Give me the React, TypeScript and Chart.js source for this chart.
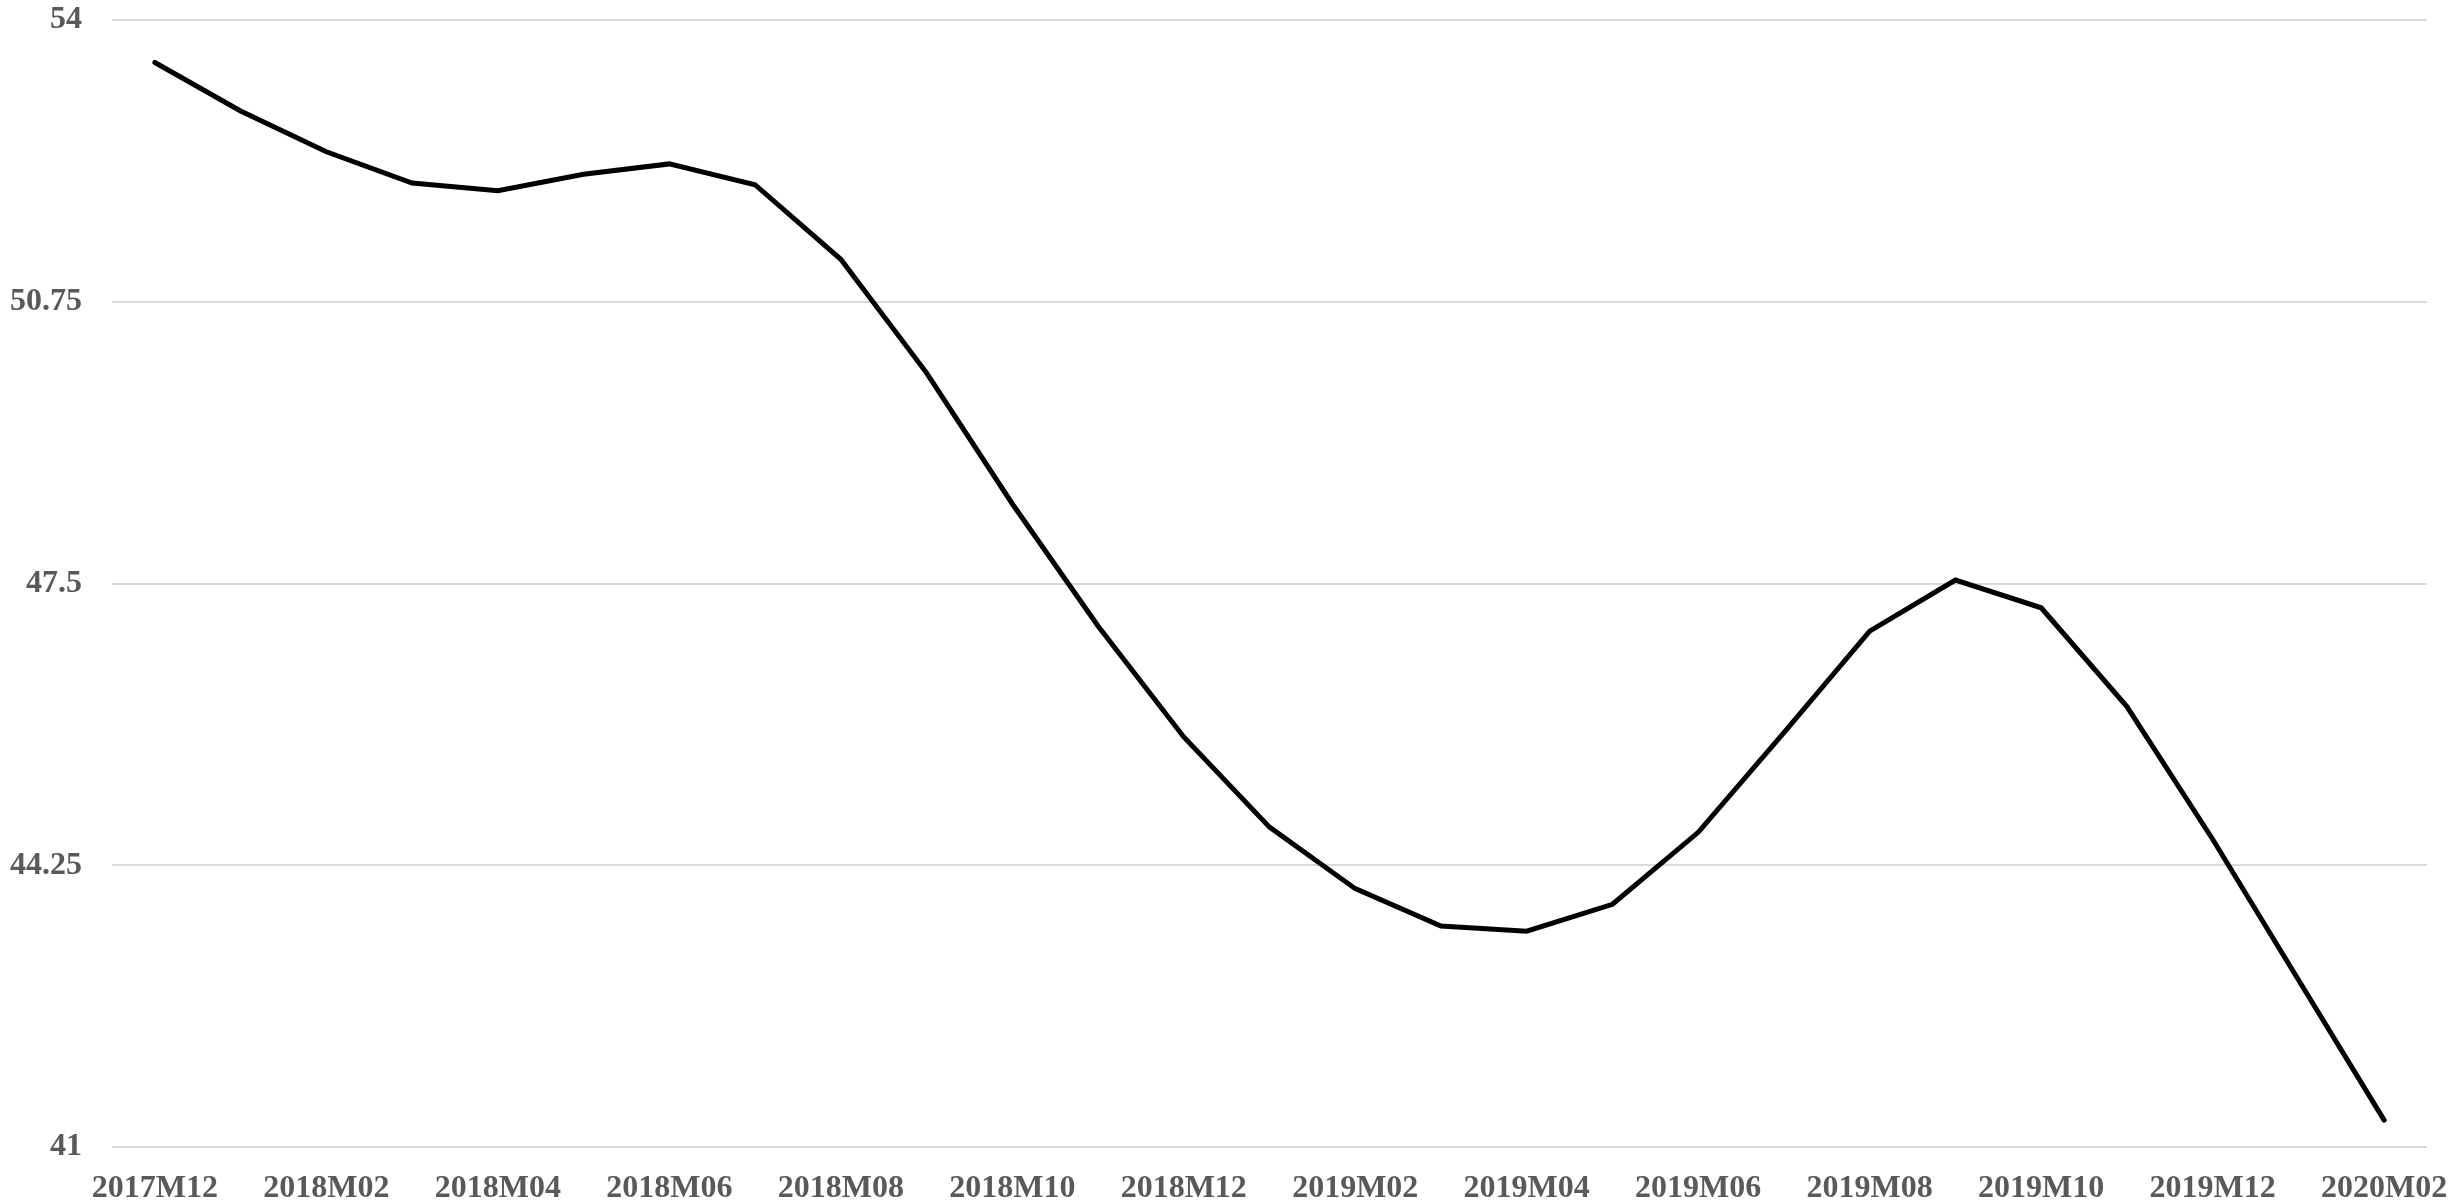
import React, { useEffect, useRef } from "react";
import { Chart, registerables } from "chart.js";

Chart.register(...registerables);

const categories = [
  "2017M12",
  "2018M01", "2018M02", "2018M03", "2018M04", "2018M05", "2018M06",
  "2018M07", "2018M08", "2018M09", "2018M10", "2018M11", "2018M12",
  "2019M01", "2019M02", "2019M03", "2019M04", "2019M05", "2019M06",
  "2019M07", "2019M08", "2019M09", "2019M10", "2019M11", "2019M12",
  "2020M01", "2020M02",
];

const seriesValues = [
  53.51, 52.95, 52.48, 52.12, 52.03, 52.22, 52.34, 52.10, 51.24, 49.93,
  48.42, 47.01, 45.73, 44.69, 43.98, 43.55, 43.49, 43.80, 44.63, 45.78,
  46.95, 47.54, 47.22, 46.08, 44.55, 42.93, 41.31,
];

const yTickValues = [41, 44.25, 47.5, 50.75, 54];

const TEXT_COLOR = "#595959";
const GRID_COLOR = "#d9d9d9";
const FONT = { family: "'Liberation Serif', 'DejaVu Serif', serif", weight: "bold" as const, size: 32 };

export default function App() {
  const canvasRef = useRef<HTMLCanvasElement | null>(null);

  useEffect(() => {
    if (!canvasRef.current) return;
    const chart = new Chart(canvasRef.current, {
      type: "line",
      data: {
        labels: categories,
        datasets: [
          {
            data: seriesValues,
            borderColor: "#000000",
            borderWidth: 5,
            borderCapStyle: "round",
            borderJoinStyle: "miter",
            pointRadius: 0,
            pointHoverRadius: 0,
            tension: 0,
            fill: false,
          },
        ],
      },
      options: {
        animation: false,
        responsive: false,
        devicePixelRatio: 1,
        layout: { padding: { left: 0, right: 36, top: 20, bottom: 0 } },
        plugins: { legend: { display: false }, tooltip: { enabled: false } },
        scales: {
          x: {
            type: "category",
            offset: true,
            grid: { display: false, drawTicks: false },
            border: { display: false },
            ticks: {
              autoSkip: false,
              maxRotation: 0,
              minRotation: 0,
              padding: 23,
              color: TEXT_COLOR,
              font: FONT,
              callback: (_v: any, i: number) => (i % 2 === 0 ? categories[i] : ""),
            },
            afterFit: (scale: any) => {
              scale.height = 57;
              scale.paddingLeft = 0;
              scale.paddingRight = 0;
            },
          },
          y: {
            min: yTickValues[0],
            max: yTickValues[yTickValues.length - 1],
            grid: { color: GRID_COLOR, lineWidth: 2, drawTicks: false },
            border: { display: false },
            ticks: {
              padding: 30,
              color: TEXT_COLOR,
              font: FONT,
              callback: (v: any) => String(v),
            },
            afterBuildTicks: (scale: any) => {
              scale.ticks = yTickValues.map((v) => ({ value: v }));
            },
            afterFit: (scale: any) => {
              scale.width = 112;
              scale.paddingTop = 0;
              scale.paddingBottom = 0;
            },
          },
        },
      },
    });
    return () => chart.destroy();
  }, []);

  return (
    <div style={{ position: "absolute", left: 0, top: 0, width: 2463, height: 1204, background: "#fff" }}>
      <canvas ref={canvasRef} width={2463} height={1204} style={{ width: 2463, height: 1204, display: "block" }} />
    </div>
  );
}
